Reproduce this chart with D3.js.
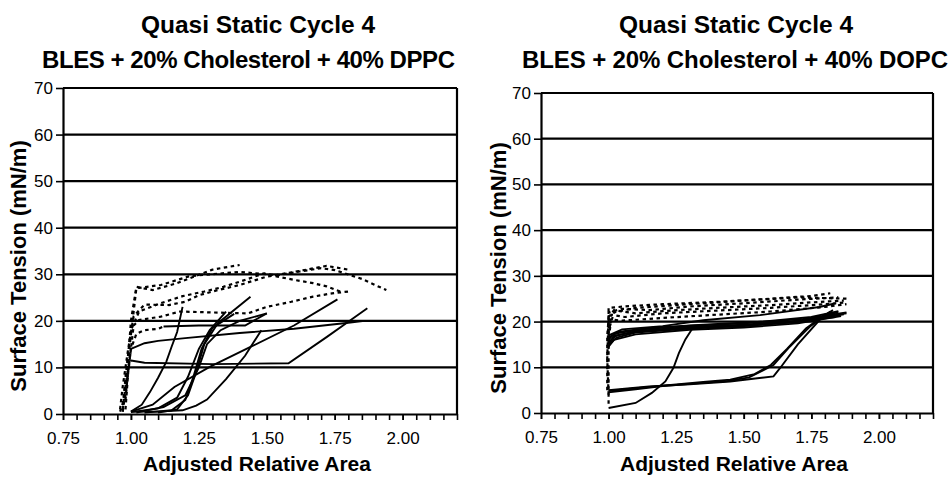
<!DOCTYPE html>
<html>
<head>
<meta charset="utf-8">
<script src="https://cdn.jsdelivr.net/npm/d3@7"></script>
<style>
  body { margin: 0; background: #fff; }
  text { font-family: "Liberation Sans", Arial, sans-serif; fill: #000; }
</style>
</head>
<body>
<div id="chart"></div>
<script>
// tick values
const yTicks = [0, 10, 20, 30, 40, 50, 60, 70];
const xTickLabels = [0.75, 1.00, 1.25, 1.50, 1.75, 2.00];

// BLES + 20% Cholesterol + 40% DPPC, [area, tension]
const dppcSolid = [
  [[1.00,0.5],[1.04,2],[1.07,4.7],[1.10,7.8],[1.13,11.2],[1.15,14.5],[1.17,17.6],[1.19,23]],
  [[1.00,0.5],[1.10,0.5],[1.19,0.8],[1.24,1.8],[1.28,3.1],[1.35,7.5],[1.42,12.5],[1.48,18]],
  [[1.00,11.5],[1.05,11],[1.30,10.7],[1.58,10.9],[1.72,16.5],[1.80,19.8],[1.87,22.7]],
  [[1.00,14],[1.05,15.2],[1.10,15.7],[1.20,16.3],[1.40,17.4],[1.60,18.3],[1.80,19.6],[1.86,20]],
  [[1.12,18.8],[1.25,19],[1.42,19],[1.50,21.6]],
  [[1.00,0.5],[1.08,2],[1.16,5.8],[1.29,10.1],[1.44,14.4],[1.60,19],[1.76,24.6]],
  [[1.00,0.4],[1.10,1.2],[1.17,3.5],[1.21,8],[1.25,14],[1.29,18],[1.35,22]],
  [[1.05,0.3],[1.15,0.8],[1.20,3],[1.23,8],[1.26,14],[1.30,18.5],[1.38,21.5]],
  [[1.10,0.3],[1.17,1],[1.21,4],[1.24,9],[1.27,15],[1.32,19.5],[1.44,25.2]],
  [[1.02,0.3],[1.12,1.5],[1.20,4],[1.25,10],[1.28,15],[1.33,18],[1.40,20],[1.50,21.6]]
];
const dppcDashed = [
  [[0.97,0.5],[0.98,5],[0.99,12],[1.00,20],[1.02,27.3],[1.08,26.6],[1.17,28.1],[1.25,29.9],[1.30,31],[1.40,32]],
  [[0.96,1],[0.97,6],[0.99,14],[1.01,21],[1.05,23.5],[1.14,23.4],[1.20,24.1],[1.25,25.5],[1.32,26.6],[1.40,27.7],[1.50,29.5],[1.60,30.5],[1.72,31.8],[1.80,31]],
  [[0.97,0.5],[0.98,8],[1.00,18],[1.03,22],[1.11,23.8],[1.19,25.3],[1.27,26.3],[1.34,27.3],[1.40,28.4],[1.49,30.2],[1.54,29.5],[1.60,28.8],[1.67,28.1],[1.72,27.4],[1.77,26.3]],
  [[0.98,1],[0.99,9],[1.01,19],[1.03,20.2],[1.11,20.9],[1.18,22],[1.30,21.8],[1.43,21.6],[1.50,23],[1.59,24.1],[1.67,25.2],[1.74,25.9],[1.80,26.3]],
  [[0.97,2],[0.99,12],[1.02,27],[1.11,27.7],[1.21,29.5],[1.25,29.8],[1.40,30.5],[1.54,29.8],[1.62,30.6],[1.70,31.3],[1.75,30.9],[1.85,29],[1.94,26.6]],
  [[0.98,3],[0.99,10],[1.00,14],[1.02,17.2],[1.05,18],[1.10,18.3],[1.12,18.8]],
  [[0.97,1],[0.98,6],[0.99,10],[1.00,11.5]],
  [[0.96,0.5],[0.98,4],[0.99,9],[1.00,14]]
];

// BLES + 20% Cholesterol + 40% DOPC
const dopcSolid = [
  [[1.00,14.5],[1.02,16],[1.10,17.2],[1.30,18.2],[1.50,18.7],[1.70,19.6],[1.86,21.2]],
  [[1.00,15],[1.03,16.5],[1.10,17.6],[1.30,18.5],[1.50,19],[1.70,19.9],[1.87,21.6]],
  [[1.00,15.5],[1.03,17],[1.12,18],[1.30,18.8],[1.50,19.3],[1.70,20.2],[1.88,21.8]],
  [[1.00,16],[1.02,17.3],[1.12,18.3],[1.30,19.1],[1.50,19.6],[1.72,20.6],[1.88,22]],
  [[1.00,16.5],[1.04,17.8],[1.15,18.6],[1.35,19.3],[1.55,19.9],[1.75,21],[1.85,22.3]],
  [[1.00,17],[1.05,18.3],[1.20,19],[1.35,20.3],[1.56,21.4],[1.78,23.2],[1.84,24]],
  [[1.00,15.2],[1.02,16.8],[1.10,17.9],[1.30,18.6],[1.50,19.1],[1.70,20],[1.84,21]],
  [[1.00,4.5],[1.10,5.2],[1.20,5.9],[1.35,6.6],[1.44,7],[1.52,7.8],[1.56,9],[1.61,10.5],[1.67,14.5],[1.745,18.9],[1.82,22.2]],
  [[1.00,4.8],[1.10,5.4],[1.20,6],[1.35,6.8],[1.45,7.3],[1.54,8.5],[1.60,10.5],[1.66,14],[1.73,18.5],[1.80,21.5],[1.85,22]],
  [[1.00,5],[1.15,5.8],[1.30,6.3],[1.45,6.9],[1.55,7.6],[1.61,8],[1.634,9.8],[1.70,15],[1.79,21],[1.83,22.5]],
  [[1.00,1.1],[1.10,2.2],[1.16,4.4],[1.21,6.9],[1.24,9.9],[1.26,13.1],[1.284,16.1],[1.31,18.5]]
];
const dopcDashed = [
  [[1.00,4],[0.995,12],[1.00,21],[1.02,22.5],[1.10,21.8],[1.20,22.3],[1.40,23],[1.60,23.6],[1.75,24.2],[1.87,24.6]],
  [[1.00,14],[1.00,22],[1.05,22.8],[1.15,22.5],[1.30,23.3],[1.50,24],[1.70,24.8],[1.85,25.3]],
  [[1.00,16],[1.00,23],[1.08,23.4],[1.20,23.8],[1.40,24.3],[1.60,25],[1.75,25.6],[1.82,26.2]],
  [[1.00,15],[1.01,21.5],[1.06,21],[1.20,21.8],[1.40,22.4],[1.60,23],[1.80,23.8],[1.88,24.2]],
  [[0.995,5],[0.995,17],[1.00,20.5],[1.05,20.2],[1.20,20.8],[1.40,21.5],[1.60,22.2],[1.80,23.2],[1.88,23.8]],
  [[1.00,2],[1.00,10],[1.00,18],[1.02,22],[1.10,23],[1.30,23.8],[1.50,24.6],[1.70,25.3],[1.88,25]]
];

const svg = d3.select("#chart").append("svg")
  .attr("width", 951)
  .attr("height", 478);

const panels = [
  { title: "BLES + 20% Cholesterol + 40% DPPC", left: 63, right: 457, top: 88, bottom: 414,
    title1X: 258, title2X: 248.5, title2W: 413, solid: dppcSolid, dashed: dppcDashed, yLabelX: 26 },
  { title: "BLES + 20% Cholesterol + 40% DOPC", left: 541, right: 933, top: 93, bottom: 413,
    title1X: 736, title2X: 735, title2W: 426, solid: dopcSolid, dashed: dopcDashed, yLabelX: 506 }
];

panels.forEach(p => {
  const x = d3.scaleLinear().domain([0.75, 2.2]).range([p.left, p.right]);
  const y = d3.scaleLinear().domain([0, 70]).range([p.bottom, p.top]);
  const g = svg.append("g");

  // titles
  g.append("text")
    .attr("x", p.title1X).attr("y", 33)
    .attr("text-anchor", "middle")
    .attr("font-size", "24.5px").attr("font-weight", "bold")
    .text("Quasi Static Cycle 4");
  g.append("text")
    .attr("x", p.title2X).attr("y", 68)
    .attr("text-anchor", "middle")
    .attr("font-size", "24px").attr("font-weight", "bold")
    .attr("textLength", p.title2W).attr("lengthAdjust", "spacing")
    .text(p.title);

  // grid lines
  g.selectAll("line.grid")
    .data(yTicks.filter(d => d > 0))
    .enter().append("line")
    .attr("class", "grid")
    .attr("x1", p.left).attr("x2", p.right)
    .attr("y1", d => y(d)).attr("y2", d => y(d))
    .attr("stroke", "#000").attr("stroke-width", 2.2);

  // right border
  g.append("line")
    .attr("x1", p.right).attr("x2", p.right)
    .attr("y1", p.top).attr("y2", p.bottom)
    .attr("stroke", "#000").attr("stroke-width", 2.2);

  // data
  const line = d3.line().x(d => x(d[0])).y(d => y(d[1]));
  g.selectAll("path.solid")
    .data(p.solid)
    .enter().append("path")
    .attr("class", "solid")
    .attr("fill", "none")
    .attr("stroke", "#000")
    .attr("stroke-width", 1.9)
    .attr("d", line);
  g.selectAll("path.dashed")
    .data(p.dashed)
    .enter().append("path")
    .attr("class", "dashed")
    .attr("fill", "none")
    .attr("stroke", "#000")
    .attr("stroke-width", 2.2)
    .attr("stroke-dasharray", "3.5,3.5")
    .attr("d", line);

  // y axis
  const yAxis = g.append("g")
    .attr("transform", `translate(${p.left},0)`)
    .call(d3.axisLeft(y).tickValues(yTicks).tickSize(7).tickPadding(3).tickSizeOuter(0));
  yAxis.selectAll("text").attr("font-size", "17px").attr("font-family", null);
  yAxis.selectAll("line").attr("stroke-width", 1.6);
  yAxis.select(".domain").attr("stroke-width", 2.2);

  // x axis: minor ticks every 0.05, labels every 0.25
  const xAxisG = g.append("g").attr("transform", `translate(0,${p.bottom})`);
  xAxisG.call(d3.axisBottom(x).tickValues(d3.range(0.75, 2.2001, 0.05))
      .tickSize(6).tickFormat("").tickSizeOuter(0));
  xAxisG.selectAll("line").attr("stroke-width", 1.6);
  xAxisG.select(".domain").attr("stroke-width", 2.2);
  const xLab = g.append("g").attr("transform", `translate(0,${p.bottom})`)
    .call(d3.axisBottom(x).tickValues(xTickLabels).tickSize(6).tickPadding(12)
      .tickFormat(d3.format(".2f")));
  xLab.select(".domain").remove();
  xLab.selectAll("line").attr("stroke-width", 1.6);
  xLab.selectAll("text").attr("font-size", "17px").attr("font-family", null);

  // axis titles
  g.append("text")
    .attr("x", (p.left + p.right) / 2 - 3).attr("y", 471)
    .attr("text-anchor", "middle")
    .attr("font-size", "21px").attr("font-weight", "bold")
    .text("Adjusted Relative Area");
  g.append("text")
    .attr("transform", `translate(${p.yLabelX},${(p.top + p.bottom) / 2 + 15}) rotate(-90)`)
    .attr("text-anchor", "middle")
    .attr("font-size", "22px").attr("font-weight", "bold")
    .text("Surface Tension (mN/m)");
});
</script>
</body>
</html>
